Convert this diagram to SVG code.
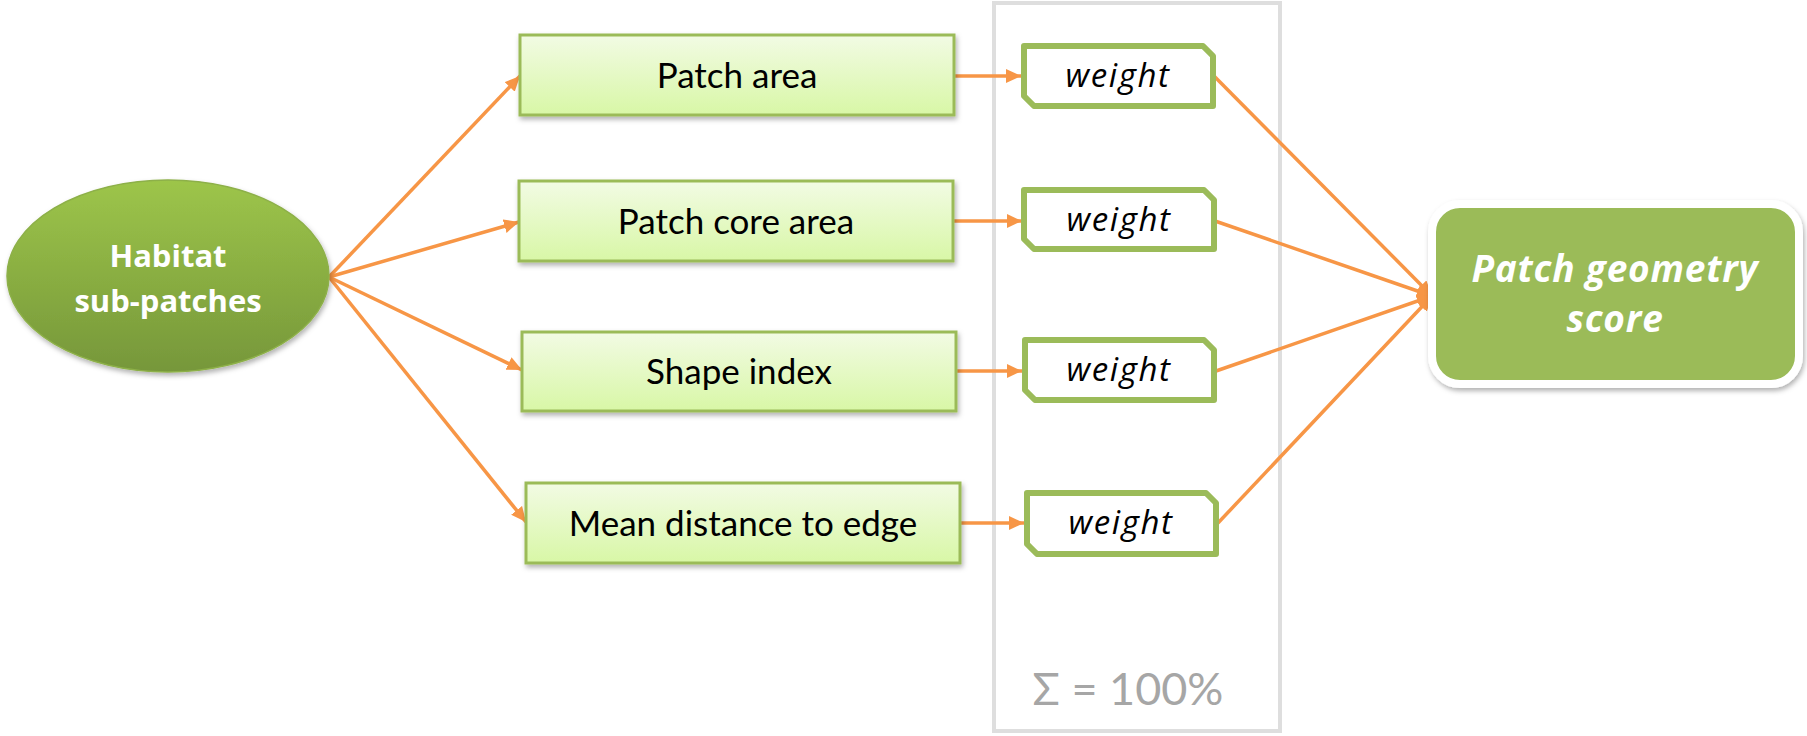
<svg xmlns="http://www.w3.org/2000/svg" width="1807" height="736" viewBox="0 0 1807 736">
<defs>
<linearGradient id="gEll" x1="0" y1="0" x2="0" y2="1">
<stop offset="0" stop-color="#9dc54a"/>
<stop offset="1" stop-color="#76973a"/>
</linearGradient>
<linearGradient id="gBox" x1="0" y1="0" x2="0" y2="1">
<stop offset="0" stop-color="#f2fbe4"/>
<stop offset="1" stop-color="#d8f7a6"/>
</linearGradient>
<filter id="sh" x="-10%" y="-10%" width="120%" height="130%">
<feDropShadow dx="1.5" dy="3" stdDeviation="2.5" flood-color="#000" flood-opacity="0.3"/>
</filter>
<marker id="ah" markerUnits="userSpaceOnUse" markerWidth="16" markerHeight="14" refX="15" refY="7" orient="auto">
<path d="M0,0 L15,7 L0,14 z" fill="#f79646"/>
</marker>
<style>
.conn{stroke:#f79646;stroke-width:3.5;fill:none;marker-end:url(#ah)}
.box{fill:url(#gBox);stroke:#9bbb59;stroke-width:3;filter:url(#sh)}
.wt{fill:#fff;stroke:#9bbb59;stroke-width:6;stroke-linejoin:round}
.bt{font-family:Lato,"Open Sans",sans-serif;font-size:35px;fill:#000;text-anchor:middle}
.wtt{font-family:"Open Sans",Lato,sans-serif;font-size:33px;letter-spacing:1.6px;font-style:italic;fill:#000;text-anchor:middle}
.wb{font-family:"Open Sans",Lato,sans-serif;font-size:31px;font-weight:bold;fill:#fff;text-anchor:middle}
.sc{font-family:"Open Sans",Lato,sans-serif;font-size:37px;letter-spacing:0.8px;font-weight:bold;font-style:italic;fill:#fff;text-anchor:middle}
</style>
</defs>
<rect width="1807" height="736" fill="#fff"/>

<g id="sum-frame">
<rect x="994" y="3" width="286" height="728" fill="none" stroke="#dedede" stroke-width="4"/>
<text x="1128" y="705" font-family="Lato,'Open Sans',sans-serif" font-size="45" fill="#a6a6a6" text-anchor="middle">Σ = 100%</text>
</g>

<g id="connectors">
<line class="conn" x1="329" y1="277" x2="520" y2="76"/>
<line class="conn" x1="329" y1="277" x2="519" y2="222"/>
<line class="conn" x1="329" y1="277" x2="522" y2="370"/>
<line class="conn" x1="329" y1="277" x2="526" y2="522"/>
<line class="conn" x1="954" y1="76" x2="1021" y2="76"/>
<line class="conn" x1="953" y1="221" x2="1022" y2="221"/>
<line class="conn" x1="956" y1="371" x2="1022" y2="371"/>
<line class="conn" x1="960" y1="523" x2="1024" y2="523"/>
<line class="conn" x1="1214" y1="76" x2="1432" y2="296"/>
<line class="conn" x1="1215" y1="221" x2="1432" y2="296"/>
<line class="conn" x1="1216" y1="371" x2="1432" y2="296"/>
<line class="conn" x1="1218" y1="523" x2="1432" y2="296"/>
</g>

<g id="habitat">
<ellipse cx="168" cy="276" rx="161" ry="96" fill="url(#gEll)" stroke="#8db048" stroke-width="1.5" filter="url(#sh)"/>
<text class="wb" x="168" y="267">Habitat</text>
<text class="wb" x="168" y="312">sub-patches</text>
</g>

<g id="patch-area">
<rect class="box" x="520" y="35" width="434" height="80"/>
<text class="bt" x="737" y="88">Patch area</text>
</g>
<g id="patch-core-area">
<rect class="box" x="519" y="181" width="434" height="80"/>
<text class="bt" x="736" y="234">Patch core area</text>
</g>
<g id="shape-index">
<rect class="box" x="522" y="332" width="434" height="79"/>
<text class="bt" x="739" y="384">Shape index</text>
</g>
<g id="mean-distance">
<rect class="box" x="526" y="483" width="434" height="80"/>
<text class="bt" x="743" y="536">Mean distance to edge</text>
</g>

<g id="weight-1">
<path class="wt" d="M1024,46 H1203 L1213,56 V106 H1034 L1024,96 Z"/>
<text class="wtt" x="1118" y="87">weight</text>
</g>
<g id="weight-2">
<path class="wt" d="M1024,190 H1204 L1214,200 V249 H1034 L1024,239 Z"/>
<text class="wtt" x="1119" y="231">weight</text>
</g>
<g id="weight-3">
<path class="wt" d="M1025,340 H1204 L1214,350 V400 H1035 L1025,390 Z"/>
<text class="wtt" x="1119" y="381">weight</text>
</g>
<g id="weight-4">
<path class="wt" d="M1027,493 H1206 L1216,503 V554 H1037 L1027,544 Z"/>
<text class="wtt" x="1121" y="534">weight</text>
</g>

<g id="score">
<rect x="1432" y="204" width="367" height="180" rx="28" fill="#9bbb59" stroke="#fff" stroke-width="8" filter="url(#sh)"/>
<text class="sc" x="1615" y="282">Patch geometry</text>
<text class="sc" x="1615" y="332">score</text>
</g>
</svg>
